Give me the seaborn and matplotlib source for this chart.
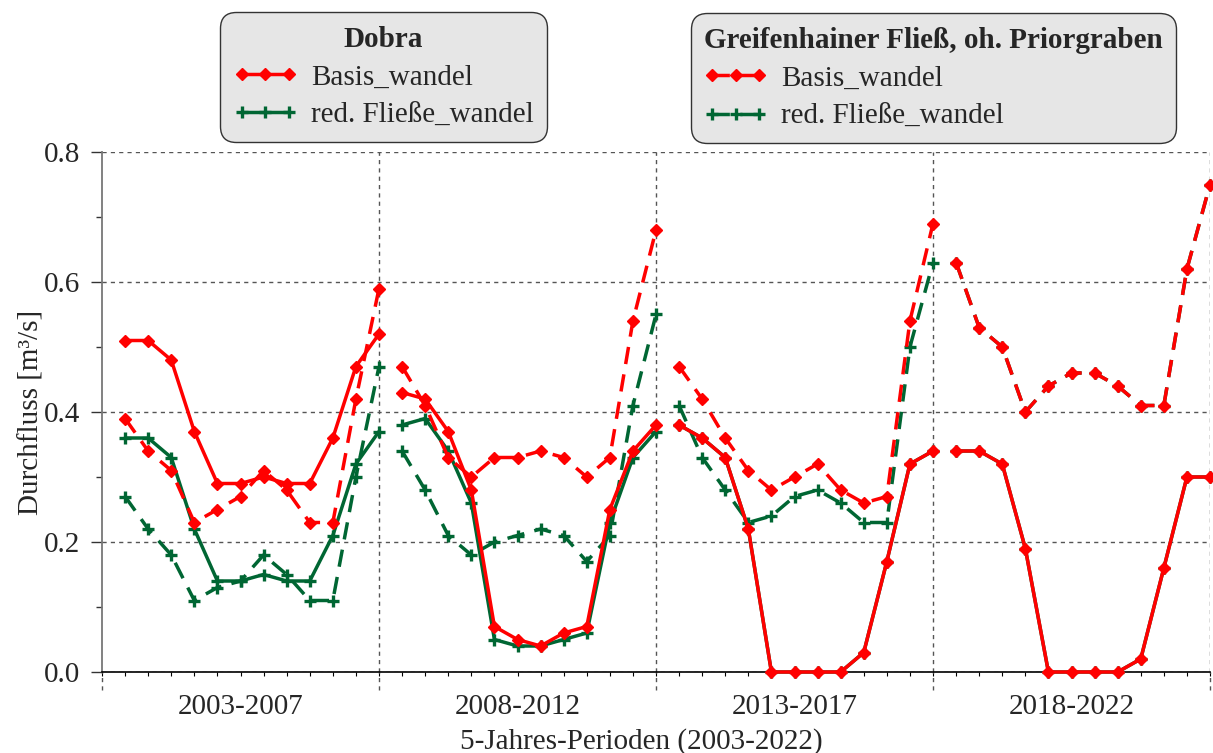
import numpy as np
import pandas as pd
import matplotlib
matplotlib.use("Agg")
import matplotlib.pyplot as plt
from matplotlib.lines import Line2D
import seaborn as sns

# 5-year periods, 12 monthly values each (Durchfluss in m3/s)
periods = ["2003-2007", "2008-2012", "2013-2017", "2018-2022"]

dobra_basis = [0.51, 0.51, 0.48, 0.37, 0.29, 0.29, 0.30, 0.29, 0.29, 0.36, 0.47, 0.52,
               0.43, 0.42, 0.37, 0.28, 0.07, 0.05, 0.04, 0.06, 0.07, 0.25, 0.34, 0.38,
               0.38, 0.36, 0.33, 0.22, 0.00, 0.00, 0.00, 0.00, 0.03, 0.17, 0.32, 0.34,
               0.34, 0.34, 0.32, 0.19, 0.00, 0.00, 0.00, 0.00, 0.02, 0.16, 0.30, 0.30]
dobra_red = [0.36, 0.36, 0.33, 0.22, 0.14, 0.14, 0.15, 0.14, 0.14, 0.21, 0.32, 0.37,
             0.38, 0.39, 0.34, 0.26, 0.05, 0.04, 0.04, 0.05, 0.06, 0.23, 0.33, 0.37,
             0.38, 0.36, 0.33, 0.22, 0.00, 0.00, 0.00, 0.00, 0.03, 0.17, 0.32, 0.34,
             0.34, 0.34, 0.32, 0.19, 0.00, 0.00, 0.00, 0.00, 0.02, 0.16, 0.30, 0.30]
greif_basis = [0.39, 0.34, 0.31, 0.23, 0.25, 0.27, 0.31, 0.28, 0.23, 0.23, 0.42, 0.59,
               0.47, 0.41, 0.33, 0.30, 0.33, 0.33, 0.34, 0.33, 0.30, 0.33, 0.54, 0.68,
               0.47, 0.42, 0.36, 0.31, 0.28, 0.30, 0.32, 0.28, 0.26, 0.27, 0.54, 0.69,
               0.63, 0.53, 0.50, 0.40, 0.44, 0.46, 0.46, 0.44, 0.41, 0.41, 0.62, 0.75]
greif_red = [0.27, 0.22, 0.18, 0.11, 0.13, 0.14, 0.18, 0.15, 0.11, 0.11, 0.30, 0.47,
             0.34, 0.28, 0.21, 0.18, 0.20, 0.21, 0.22, 0.21, 0.17, 0.21, 0.41, 0.55,
             0.41, 0.33, 0.28, 0.23, 0.24, 0.27, 0.28, 0.26, 0.23, 0.23, 0.50, 0.63,
             0.63, 0.53, 0.50, 0.40, 0.44, 0.46, 0.46, 0.44, 0.41, 0.41, 0.62, 0.75]

RED = "#ff0000"
GREEN = "#006633"
DASH = (0, (5, 3))
FS = 21

# name -> (values, color, linestyle, marker), greens first so red sits on top
series = {
    "Greif_red": (greif_red, GREEN, DASH, "+"),
    "Dobra_red": (dobra_red, GREEN, "-", "+"),
    "Dobra_basis": (dobra_basis, RED, "-", "D"),
    "Greif_basis": (greif_basis, RED, DASH, "D"),
}

rows = []
for name, (vals, _, _, _) in series.items():
    for i, v in enumerate(vals):
        rows.append({"series": name, "period": periods[i // 12], "month": i + 1, "value": v})
df = pd.DataFrame(rows)

sns.set_theme(style="white")
plt.rcParams["font.family"] = ["Liberation Serif", "DejaVu Serif"]

fig = plt.figure(figsize=(12.13, 7.53), dpi=100)
ax = fig.add_axes([102 / 1213, 1 - 672 / 753, 1108 / 1213, 520 / 753])


def marker_kws(color, marker):
    if marker == "D":
        return dict(marker="D", markersize=6.5, markerfacecolor=color,
                    markeredgecolor=color, markeredgewidth=1)
    return dict(marker="+", markersize=9, markerfacecolor=color,
                markeredgecolor=color, markeredgewidth=2.4)


for name, (vals, color, ls, mk) in series.items():
    sub = df[df["series"] == name]
    sns.lineplot(data=sub, x="month", y="value", units="period", estimator=None,
                 color=color, linestyle=ls, linewidth=2.5, legend=False, ax=ax,
                 clip_on=False, zorder=3, **marker_kws(color, mk))

ax.set_xlim(0, 48)
ax.set_ylim(0, 0.8)

# period labels centred, monthly minor ticks
ax.xaxis.remove_overlapping_locs = False
ax.set_xticks([6, 18, 30, 42])
ax.set_xticklabels(periods)
ax.set_xticks(np.arange(0, 49), minor=True)
ax.tick_params(axis="x", which="major", length=0, pad=16, labelsize=FS)
ax.tick_params(axis="x", which="minor", length=3, width=0.8, color="black",
               direction="out", bottom=True)

ax.set_yticks([0, 0.2, 0.4, 0.6, 0.8])
ax.set_yticklabels(["0.0", "0.2", "0.4", "0.6", "0.8"])
ax.set_yticks([0.1, 0.3, 0.5, 0.7], minor=True)
ax.tick_params(axis="y", which="major", length=8, width=1, color="#333333",
               direction="out", left=True, pad=8, labelsize=FS)
ax.tick_params(axis="y", which="minor", length=4, width=1, color="#333333",
               direction="out", left=True)

ax.set_axisbelow(True)
ax.yaxis.grid(True, which="major", linestyle=(0, (3, 3)), color="#555555", linewidth=1)
ax.xaxis.grid(False)
xtrans = ax.get_xaxis_transform()
ax.vlines([12, 24, 36, 48], 0, 1, transform=xtrans, colors="#555555",
          linestyles=(0, (3, 3)), linewidth=1, zorder=1)
ax.vlines([0, 12, 24, 36, 48], -0.035, 0, transform=xtrans, colors="#555555",
          linestyles=(0, (3, 3)), linewidth=1, clip_on=False, zorder=1)

for side in ["top", "right"]:
    ax.spines[side].set_visible(False)
ax.spines["left"].set_color("#777777")
ax.spines["left"].set_linewidth(1.3)
ax.spines["bottom"].set_color("black")
ax.spines["bottom"].set_linewidth(1.2)

ax.set_xlabel("5-Jahres-Perioden (2003-2022)", fontsize=FS)
ax.set_ylabel("Durchfluss [m³/s]", fontsize=FS)
ax.xaxis.set_label_coords(0.487, -0.108)
ax.yaxis.set_label_coords(-0.052, 0.5)


def make_handles(ls):
    out = []
    for color, mk in [(RED, "D"), (GREEN, "+")]:
        out.append(Line2D([], [], color=color, linestyle=ls, linewidth=2.5,
                          **marker_kws(color, mk)))
    return out


labels = ["Basis_wandel", "red. Fließe_wandel"]
leg_kws = dict(loc="center", numpoints=3, fontsize=FS, frameon=True, fancybox=True,
               facecolor="#e6e6e6", edgecolor="#333333", framealpha=1,
               borderpad=0.45, labelspacing=0.4, handlelength=2.2, handletextpad=0.45,
               title_fontproperties={"weight": "bold", "size": FS})

leg1 = ax.legend(make_handles("-"), labels, title="Dobra",
                 bbox_to_anchor=(0.254, 1.144), alignment="center", **leg_kws)
leg1.get_frame().set_boxstyle("round,pad=0,rounding_size=0.55")
ax.add_artist(leg1)
leg2 = ax.legend(make_handles(DASH), labels, title="Greifenhainer Fließ, oh. Priorgraben",
                 bbox_to_anchor=(0.75, 1.142), alignment="left", **leg_kws)
leg2.get_frame().set_boxstyle("round,pad=0,rounding_size=0.55")

fig.savefig("out.png", dpi=100)
